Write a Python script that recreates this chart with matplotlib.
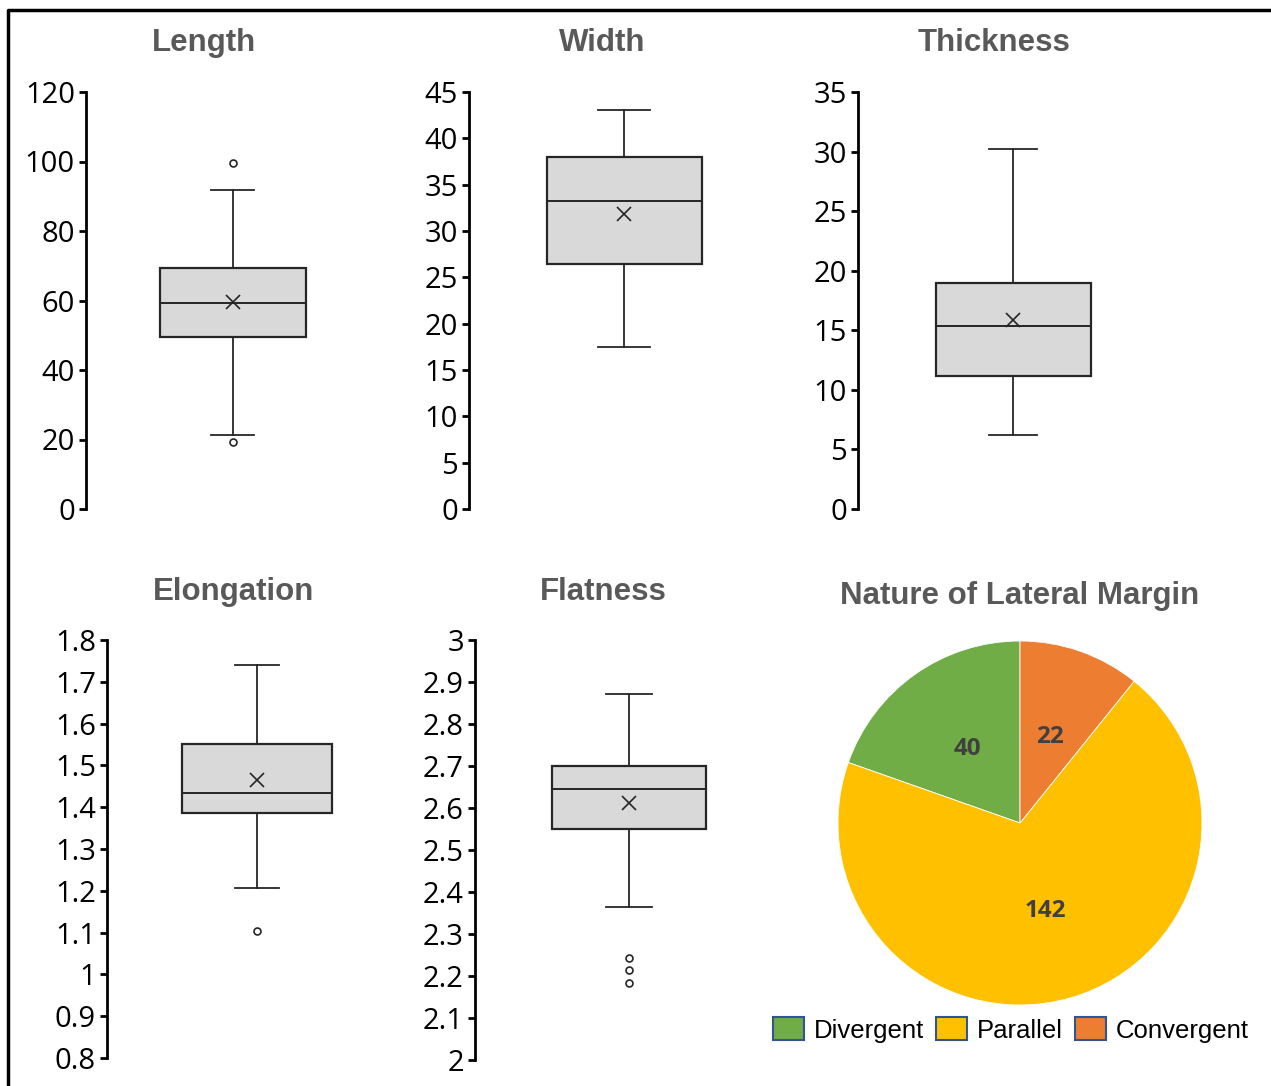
import matplotlib
matplotlib.use('Agg')
import matplotlib.pyplot as plt
from matplotlib.lines import Line2D
from matplotlib.patches import Patch
from matplotlib.ticker import FuncFormatter

W, H = 1271, 1086
DPI = 100

# ---------------- data ----------------
box_titles = ["Length", "Width", "Thickness", "Elongation", "Flatness"]
whislo = [21.3, 17.5, 6.2, 1.207, 2.364]
q1 = [49.5, 26.4, 11.2, 1.385, 2.550]
med = [59.3, 33.2, 15.4, 1.434, 2.645]
mean = [59.6, 31.8, 15.9, 1.465, 2.612]
q3 = [69.4, 38.0, 19.0, 1.551, 2.700]
whishi = [91.8, 43.1, 30.2, 1.740, 2.871]
fliers = [[19.3, 99.6], [], [], [1.104], [2.183, 2.214, 2.243]]
y_ticks = [
    [0, 20, 40, 60, 80, 100, 120],
    [0, 5, 10, 15, 20, 25, 30, 35, 40, 45],
    [0, 5, 10, 15, 20, 25, 30, 35],
    [0.8, 0.9, 1.0, 1.1, 1.2, 1.3, 1.4, 1.5, 1.6, 1.7, 1.8],
    [2.0, 2.1, 2.2, 2.3, 2.4, 2.5, 2.6, 2.7, 2.8, 2.9, 3.0],
]

pie_title = "Nature of Lateral Margin"
pie_labels = ["Divergent", "Parallel", "Convergent"]
pie_values = [40, 142, 22]
pie_colors = ["#70AD47", "#FFC000", "#ED7D31"]

# ---------------- layout ----------------
fig = plt.figure(figsize=(W / DPI, H / DPI), dpi=DPI)
fig.patch.set_facecolor('white')


def px_axes(l, t, r, b):
    return fig.add_axes([l / W, 1 - b / H, (r - l) / W, (b - t) / H])


layout = [(86, 92, 380, 509), (469, 92, 779, 509), (858, 92, 1168, 509),
          (107, 640, 407, 1058), (475, 640, 783, 1060)]
title_pos = [(204, 43), (602, 43), (994, 43), (234, 592), (603, 592)]
cap_px = [43, 52, 48, 44, 46]

line_col = '#262626'
tick_font = 'Open Sans'
title_kw = dict(ha='center', va='center', fontsize=22.5, fontweight='bold',
                color='#595959', family='Liberation Sans')

for i in range(5):
    l, t, r, b = layout[i]
    ax = px_axes(l, t, r, b)
    stats = [dict(med=med[i], q1=q1[i], q3=q3[i], whislo=whislo[i],
                  whishi=whishi[i], fliers=fliers[i], mean=mean[i])]
    ax.bxp(stats, positions=[0.5], widths=0.5, capwidths=[cap_px[i] / (r - l)],
           showmeans=True, patch_artist=True,
           boxprops=dict(facecolor='#D9D9D9', edgecolor=line_col, linewidth=1.6),
           medianprops=dict(color=line_col, linewidth=1.4),
           whiskerprops=dict(color=line_col, linewidth=1.3),
           capprops=dict(color=line_col, linewidth=1.3),
           flierprops=dict(marker='o', markersize=5, markerfacecolor='white',
                           markeredgecolor=line_col, markeredgewidth=1.2),
           meanprops=dict(marker='x', markersize=10.5, markeredgecolor=line_col,
                          markeredgewidth=1.2))
    ax.set_xlim(0, 1)
    ax.set_ylim(y_ticks[i][0], y_ticks[i][-1])
    for s in ['top', 'right', 'bottom']:
        ax.spines[s].set_visible(False)
    ax.spines['left'].set_linewidth(2)
    ax.spines['left'].set_color('black')
    ax.set_xticks([])
    ax.set_yticks(y_ticks[i])
    ax.yaxis.set_major_formatter(FuncFormatter(lambda v, p: f"{round(v, 2):g}"))
    ax.tick_params(axis='y', direction='out', length=5, width=2, pad=3,
                   labelsize=21, colors='black')
    for lab in ax.get_yticklabels():
        lab.set_family(tick_font)
    ax.patch.set_alpha(0)
    fig.text(title_pos[i][0] / W, 1 - title_pos[i][1] / H, box_titles[i], **title_kw)

# ---------------- pie ----------------
pax = px_axes(838, 641, 1202, 1005)
total = sum(pie_values)
wedges, texts, autotexts = pax.pie(
    pie_values, colors=pie_colors, startangle=90, counterclock=True,
    autopct=lambda p: f"{p * total / 100:.0f}", pctdistance=0.5, radius=1,
    wedgeprops=dict(edgecolor='white', linewidth=0.6),
    textprops=dict(fontsize=17.5, fontweight='bold', color='#404040', family='Open Sans'))
pax.set_xlim(-1, 1)
pax.set_ylim(-1, 1)
pax.set_aspect('equal')
fig.text(1020 / W, 1 - 596 / H, pie_title, **title_kw)

handles = [Patch(facecolor=c, edgecolor='#2F5597', linewidth=1.5, label=lab)
           for c, lab in zip(pie_colors, pie_labels)]
fig.legend(handles=handles, loc='center', bbox_to_anchor=(1011 / W, 1 - 1030 / H),
           ncol=3, frameon=False, handlelength=1.2, handleheight=1.0,
           handletextpad=0.4, columnspacing=0.45, borderpad=0,
           prop=dict(family='Liberation Sans', size=18.5))

# ---------------- frame ----------------
fig.add_artist(Line2D([8 / W, 8 / W, 1], [0, 1 - 10 / H, 1 - 10 / H],
                      color='black', lw=2.5, transform=fig.transFigure))

fig.savefig('out.png', dpi=DPI)
